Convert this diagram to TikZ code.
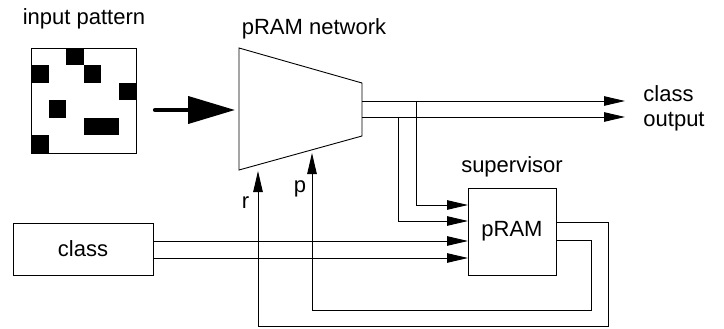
\documentclass[tikz,border=0pt]{standalone}
\usepackage{fontspec}
\setmainfont{Liberation Sans}
\usetikzlibrary{arrows.meta, positioning}

\begin{document}
\begin{tikzpicture}[
  x=1pt, y=-1pt,
  font=\fontsize{22}{25}\selectfont,
  line width=0.9pt,
  box/.style={rectangle, draw, inner sep=0pt},
  lbl/.style={inner sep=0pt},
  wire/.style={-{Triangle[length=21pt, width=9.5pt]}},
  bigarrow/.style={-{Triangle[length=47pt, width=27pt]}, line width=4pt, line cap=round}
]
\useasboundingbox (0,0) rectangle (724,329);

% Input pattern
\node[box, minimum size=105pt, anchor=north west] (pattern) at (31,48) {};
\foreach \c/\r in {2/0, 0/1, 3/1, 5/2, 1/3, 3/4, 4/4, 0/5}
  \fill (31+\c*17.5, 48+\r*17.5) rectangle ++(17.5,17.5);
\node[lbl, above=18pt of pattern] (patternlbl) {input pattern};

% pRAM network (trapezoid)
\coordinate (netNW) at (239,48);
\coordinate (netNE) at (362,83);
\coordinate (netSE) at (362,136);
\coordinate (netSW) at (239,170);
\draw (netNW) -- (netNE) -- (netSE) -- (netSW) -- cycle;
\node[lbl, anchor=base] (netlbl) at (314,35) {pRAM network};

% Supervisor pRAM and class boxes
\node[box, minimum width=88pt, minimum height=87pt] (super) at (512,231.5) {pRAM};
\node[lbl, above=10.5pt of super] (superlbl) {supervisor};
\node[box, minimum width=140pt, minimum height=52pt] (class) at (83,249) {class};

% Connection points
\coordinate (netin) at (235,110);
\coordinate (outA) at (362,101);
\coordinate (outB) at (362,117);
\coordinate (endA) at (625,101);
\coordinate (endB) at (625,117);
\coordinate (tapA) at (416,101);
\coordinate (tapB) at (398,117);
\coordinate (in1) at (468,205);
\coordinate (in2) at (468,221);
\coordinate (in3) at (468,241);
\coordinate (in4) at (468,258);
\coordinate (fbR) at (556,222);
\coordinate (fbP) at (556,240);
\coordinate (rtip) at (258,171);
\coordinate (ptip) at (312,153);

% Pattern into the network
\draw[bigarrow] (pattern.east |- netin) ++(18,0) -- (netin);

% Class outputs
\draw[wire] (outA) -- (endA);
\draw[wire] (outB) -- (endB);
\node[lbl, anchor=west, align=left] (outlbl) at (643,108) {class\\output};

% Taps to the supervisor
\draw[wire] (tapA) |- (in1);
\draw[wire] (tapB) |- (in2);
\draw[wire] (class.east |- in3) -- (in3);
\draw[wire] (class.east |- in4) -- (in4);

% Feedback r and p
\draw[wire] (fbR) -| (608,326) -| (rtip);
\draw[wire] (fbP) -| (591,310) -| (ptip);
\node[lbl, anchor=base] (rlbl) at (245.5,208) {r};
\node[lbl, anchor=base] (plbl) at (300,193) {p};

\end{tikzpicture}
\end{document}
